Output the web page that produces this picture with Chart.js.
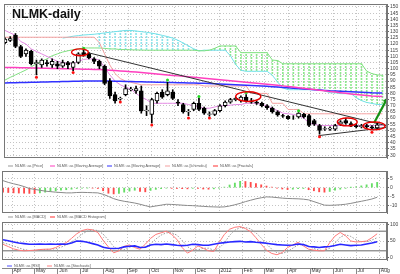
<!DOCTYPE html>
<html>
<head>
<meta charset="utf-8">
<script src="https://cdn.jsdelivr.net/npm/chart.js@4.4.0/dist/chart.umd.min.js"></script>
<style>
  body { margin: 0; width: 400px; height: 274px; overflow: hidden; position: relative; background: #fff; }
  canvas { position: absolute; left: 0; }
  #title { position: absolute; left: 12px; top: 8px; font: bold 12.5px 'Liberation Sans', Arial, sans-serif; line-height: 1; color: #111; }
  .lg { position: absolute; transform: scale(0.5); transform-origin: 0 50%; font: 7.5px 'Liberation Sans', Arial, sans-serif; color: #555; white-space: nowrap; line-height: 8px; }
  .lg i { display: inline-block; width: 10px; height: 2px; vertical-align: middle; margin-right: 4px; }
</style>
</head>
<body>
<canvas id="main" width="400" height="162" style="top:0"></canvas>
<canvas id="macd" width="400" height="50" style="top:167px"></canvas>
<canvas id="osc" width="400" height="46" style="top:218px"></canvas>
<canvas id="axis" width="400" height="8" style="top:267px"></canvas>
<div id="title">NLMK-daily</div>
<script>
// --- данные (недельные свечи, индекс 0 = конец марта 2011) ---
const opens  = [121,123,127,118,112,114,104,103,105,103,104,102,105,101,105,113,112,108,106,102,90,79,75.5,79,83,82,82,66,63,74,81,79,81,73,71,65,67,72,68,63,63,66,70,73,75,74,77,74,73,72,70,68,65,62,61.5,60,61,63,62,58,54,51,51,51,55,58,55.5,54,53,54,53,52];
const closes = [124,124.5,118,110,115,104,105,107,104,106,102,105,103,105,112,111,109,106,102,88,78,74,76,84,83.5,84,66,66.5,75,80,77,82,76,72,65,65.5,72,67,64,63.5,66,70,73,75,76,77,74,73,72,70,68.5,65,62.5,61.5,59.5,60,64,61,54,55,50,51.5,52,54,57,56,53.5,53,54,53,52,54.5];
const highs  = [125,126,128.5,119,116,115,107,108,107,108,106,107,106,106,113,115,113,109,107,103,92,81,77,87,85,86,86,70,76,81,83,89,83,75,72,67,73,76,69,65,67,71,74,76,77,78,79,76,74,73,71,69,66,63,62,62,64.5,64,63,59,55,53,53,55,58,60,57,55,55,55,54,56];
const lows   = [120,122,117,109,110,103,95,101,102,101,100,101,100,98.5,104,110,108,104,100,87,76,72,74.5,78,82,80,64,62,56,72,76,78,75,70,64,62,66,66,63,61.5,62,65,69,72,74,73,73,72,71,69,67,64,61.5,60.5,59,59,60,60,53,54,47,50,50,50,54,55,53,52,52,51.5,50.5,51.5];

const maPink = [101,101,101,100.8,100.7,100.6,100.5,100.4,100.3,100.2,100.1,100,99.9,99.8,99.7,99.6,99.5,99.4,99.3,99.1,98.8,98.5,98.2,97.9,97.6,97.3,97,96.6,96.2,95.8,95.4,95,94.6,94.2,93.8,93.4,93,92.6,92.2,91.8,91.4,91,90.6,90.2,89.8,89.4,89,88.6,88.2,87.8,87.4,87,86.6,86.1,85.6,85.1,84.6,84.1,83.6,83.1,82.6,82.1,81.6,81.1,80.6,80.1,79.6,79.2,78.8,78.4,78,77.7,77.4];
const maBlue = [88.5,88.6,88.7,88.8,88.9,89,89.1,89.2,89.3,89.4,89.5,89.6,89.7,89.8,89.9,90,90,90,90,90,90,89.9,89.8,89.7,89.6,89.5,89.4,89.3,89.2,89.1,89,88.9,88.8,88.7,88.6,88.5,88.4,88.3,88.2,88,87.8,87.6,87.4,87.2,87,86.8,86.6,86.4,86.2,86,85.7,85.4,85.1,84.8,84.5,84.2,83.9,83.6,83.3,83,82.7,82.4,82.1,81.9,81.7,81.5,81.3,81.1,80.9,80.7,80.5,80.4,80.3];

// Ichimoku
const spanGreen = [90.8,93,95,97,99,101.5,104,106,108,110.5,112,113.5,114.5,115.5,116,116.8,116.8,116.8,116.8,116.5,116,116,115.5,115.5,115.3,115.2,115.1,115,115,115,115,115,115,115,115,115,115,114.5,114.5,115,116.5,118.4,118.4,118.4,118.4,113,113,113,113,113,113,107,106.6,104,104,104,104,104,104,104,104,104,104,104,104,104,104,104,104,98,96,95,94.7];
const spanCyan = [null,null,null,null,null,null,null,null,null,null,null,124.8,125.5,126.3,126.8,127.3,127.6,127.9,128.4,129,129.5,130,130.5,131,131,130.5,130,129.5,128.8,128,127,126,124.8,123,120.8,118.5,116,114.5,115,115,115,115,115,110.5,103.4,98.7,97.9,97.9,97.9,97.9,97.9,94.7,89.2,84.5,83,83,83,83,83,83,83.5,82,80.5,80.5,79.8,79.8,79.8,76.6,74.2,72.7,71.9,71,71];
const kijun = [125.5,125.5,125.5,125.5,125.5,125.5,125.5,125.5,125.5,125.5,125.5,125.5,125.5,125.5,125.5,125.5,125.5,125.5,121,112,103,96,92,90,89,88,87,87,87,87,87,87,87,87,87,87,87,87,86,86,86,86,86,86,86,86,86,80,80,80,80,72,72,72,67,67,67,63.5,63.5,63.5,63.5,63.5,63.5,63.5,63.5,63.5,63.5,63.5,63.5,63.5,63.5,63.5,63.5];
const tenkan = [131,129,127,122,120,116,114,112,110,108,106,105,104.5,104,106,107.5,108,108,107,101,95,90,87,85,83.5,80,77,75,72,72,72,72,72,72,72,71,70,69,68,68,69,70,70,70.5,71,71,72,72,72,71,70,68,66,64,63.5,63,62,60,56,55,54,54,54,54,54,54,54,54,54,54,54,54,54];

// фракталы
const fractalUpIdx = [15, 31, 37, 46, 56];
const fractalUpVal = [116.5, 90.8, 77.6, 80.8, 66];
const fractalDnIdx = [6, 13, 22, 28, 35, 39, 60, 70];
const fractalDnVal = [93, 97, 73, 54.5, 60, 60, 45, 48.5];

// разметка: линии тренда, стрелка, эллипсы [индекс, цена, полуширина, полувысота]
const trendDown = [[15.9, 112.9], [72.9, 53.7]];
const trendUp = [[59.8, 45.8], [72.9, 52.5]];
const arrowPts = [[70.4, 56], [72.7, 74.2]];
const ellipses = [[14.3, 113.3, 1.6, 2.8], [46.4, 77.4, 2.4, 3.9], [65.3, 56.9, 1.9, 3.2], [70.4, 53.7, 2.1, 3.2]];

// MACD
const macdLine = [4,3,2.2,1.5,0.6,-0.5,-1,-1.5,-2,-2.3,-2.6,-2.8,-3,-3,-2.8,-2.7,-2.8,-2.9,-3,-3.8,-5,-6.3,-7.2,-7.8,-8.3,-8.8,-9.5,-10.3,-11,-10.5,-10,-9.5,-9.6,-9.8,-10,-10.2,-10.3,-10.5,-10.7,-10.9,-11,-11.1,-11,-10.5,-9.8,-9,-8,-7.2,-6.4,-5.8,-5.3,-5.4,-5.7,-6,-6.2,-6.3,-6.4,-6.6,-7,-8,-9,-10,-10.1,-10,-9.8,-9.5,-9,-8.4,-7.8,-7.2,-6.5,-5.5];
const macdHist = [-2.6,-2.8,-3,-3.1,-3.2,-3.3,-3.4,-3,-2.6,-2.2,-1.9,-1.5,-1.2,-0.9,-0.5,-0.3,-0.2,-0.3,-0.5,-1.8,-3.2,-3.6,-3.3,-2.6,-2,-1.5,-2.2,-2.4,-1.6,-1,-0.6,-0.3,-0.4,-0.5,-0.6,-0.7,-0.4,-0.5,-0.8,-0.9,-0.7,-0.3,0.3,1.5,2.6,3.6,3.5,3,2.3,1.6,0.9,0.3,-0.3,-0.8,-1.1,-0.9,-0.6,-0.5,-1.2,-1.8,-2.4,-2.6,-2.2,-1.5,-0.9,-0.4,0.1,0.5,1,1.6,2.3,3];

// RSI и стохастик
const rsi = [54,51,47,44,42,40,40,41,40,41,40,41,40,44,50,49,46,42,38,31,28,27,28,32,34,35,30,31,38,40,39,41,39,37,36,37,40,39,37,37,40,43,45,47,48,49,47,48,46,45,43,41,39,38,37,38,41,39,33,32,30,32,33,36,40,38,36,37,38,41,44,48];
const stochK = [40,33,26,22,20,21,22,24,25,25,30,38,45,58,72,82,86,84,76,52,32,14,20,34,38,30,25,40,58,70,75,80,70,55,30,13,22,35,28,20,18,45,70,86,92,94,88,78,60,40,22,12,8,15,30,38,46,35,25,22,20,20,45,65,76,66,50,47,48,50,60,72];
const stochD = [45,40,35,29,24,21,21,22,24,25,26,31,38,47,58,71,80,84,82,71,53,33,22,23,31,34,31,32,41,56,68,75,75,68,52,33,22,23,28,28,22,28,44,67,83,91,91,87,75,59,41,25,14,12,18,28,38,40,35,27,22,21,28,43,62,69,64,54,48,48,53,60];
const oscLevels = [20, 80];

// оси
const priceTicks = [30,35,40,45,50,55,60,65,70,75,80,85,90,95,100,105,110,115,120,125,130,135,140,145,150];
const macdTicks = [-10, -5, 0, 5];
const oscTicks = [0, 50, 100];
const monthTicks = [1.71, 6.0, 10.43, 14.71, 19.14, 23.57, 27.86, 32.29, 36.57, 41.0, 45.43, 49.57, 54.0, 58.29, 62.71, 67.0, 71.43];
const monthLabels = ['Apr','May','Jun','Jul','Aug','Sep','Oct','Nov','Dec','2012','Feb','Mar','Apr','May','Jun','Jul','Aug'];

const X_MIN = -0.19, X_MAX = 72.87;

Chart.defaults.font.family = "'Liberation Sans', Arial, sans-serif";

const pts = arr => arr.map((v, i) => ({ x: i, y: v }));
const pairs = arr => arr.map(p => ({ x: p[0], y: p[1] }));

// пунктирная штриховка облака
function dotted(color) {
  const p = document.createElement('canvas');
  p.width = 1; p.height = 3;
  const g = p.getContext('2d');
  g.fillStyle = color;
  g.fillRect(0, 0, 1, 2);
  return g.createPattern(p, 'repeat');
}

const GRID = '#c4c4c4';

function xAxis() {
  return {
    type: 'linear', min: X_MIN, max: X_MAX, offset: false,
    afterBuildTicks: s => { s.ticks = monthTicks.map(v => ({ value: v })); },
    afterFit: s => { s.height = 0; },
    ticks: { display: false },
    grid: { color: GRID, drawTicks: false, offset: false },
    border: { display: false, dash: [1, 2] }
  };
}

function yAxis(min, max, ticks) {
  return {
    position: 'right', min: min, max: max,
    afterBuildTicks: s => { s.ticks = ticks.map(v => ({ value: v })); },
    afterFit: s => { s.width = 13; },
    ticks: { autoSkip: false, font: { size: 5 }, color: '#444', padding: 1 },
    grid: { color: GRID, tickLength: 2, tickColor: '#666' },
    border: { display: true, color: '#777', dash: [1, 2] }
  };
}

// рамка панели
const boxPlugin = {
  id: 'box',
  afterDraw(c) {
    const a = c.chartArea, ctx = c.ctx;
    ctx.save();
    ctx.strokeStyle = '#777';
    ctx.lineWidth = 1;
    ctx.strokeRect(Math.round(a.left) + 0.5, Math.round(a.top) + 0.5, Math.round(a.right - a.left) - 1, Math.round(a.bottom - a.top) - 1);
    ctx.restore();
  }
};

// красные эллипсы через шкалы графика
const ellipsePlugin = {
  id: 'ellipses',
  afterDatasetsDraw(c) {
    const xs = c.scales.x, ys = c.scales.y, ctx = c.ctx;
    ctx.save();
    ctx.strokeStyle = '#e80000';
    ctx.lineWidth = 1.4;
    ellipses.forEach(e => {
      const cx = xs.getPixelForValue(e[0]), cy = ys.getPixelForValue(e[1]);
      const rx = Math.abs(xs.getPixelForValue(e[0] + e[2]) - cx);
      const ry = Math.abs(ys.getPixelForValue(e[1] + e[3]) - cy);
      ctx.beginPath();
      ctx.ellipse(cx, cy, rx, ry, 0, 0, Math.PI * 2);
      ctx.stroke();
    });
    ctx.restore();
  }
};

const base = {
  responsive: false, animation: false, devicePixelRatio: 1,
  plugins: { legend: { display: false }, tooltip: { enabled: false } },
  elements: { point: { radius: 0 }, line: { tension: 0, borderWidth: 1 } }
};

function line(data, color, width, order, extra) {
  return Object.assign({ type: 'line', data: data, borderColor: color, borderWidth: width, pointRadius: 0, fill: false, order: order, spanGaps: false }, extra || {});
}

// облако: вертикальная штриховка по каждой свече
const hatchGreen = dotted('#8ee88e');
const hatchCyan = dotted('#8ee4ea');
const hatch = [];
const hatchColors = [];
spanGreen.forEach((g, i) => {
  const c = spanCyan[i];
  if (i >= 18 && c != null) {
    hatch.push({ x: i, y: [g, c] });
    hatchColors.push(g >= c ? hatchGreen : hatchCyan);
  }
});

new Chart(document.getElementById('main'), {
  type: 'bar',
  data: {
    datasets: [
      { type: 'bar', data: opens.map((o, i) => ({ x: i, y: [o, closes[i]] })),
        backgroundColor: opens.map((o, i) => closes[i] >= o ? '#ffffff' : '#000000'),
        borderColor: '#000', borderWidth: 1, borderSkipped: false, barThickness: 4, grouped: false, order: 0 },
      { type: 'bar', data: lows.map((l, i) => ({ x: i, y: [l, highs[i]] })),
        backgroundColor: '#000', barThickness: 1, grouped: false, order: 1 },
      { type: 'scatter', data: fractalUpIdx.map((x, k) => ({ x: x, y: fractalUpVal[k] })),
        pointRadius: 1.5, pointBackgroundColor: '#22dd22', pointBorderWidth: 0, order: 0 },
      { type: 'scatter', data: fractalDnIdx.map((x, k) => ({ x: x, y: fractalDnVal[k] })),
        pointRadius: 1.5, pointBackgroundColor: '#ff1010', pointBorderWidth: 0, order: 0 },
      line(pairs(trendDown), '#333', 1, 2),
      line(pairs(trendUp), '#333', 1, 2),
      line(pairs(arrowPts), '#159015', 2.2, 0, { pointRadius: [0, 3.5], pointStyle: 'triangle', pointRotation: 22, pointBackgroundColor: '#159015', pointBorderWidth: 0 }),
      line(pts(maPink), '#ff3fbf', 1.5, 3),
      line(pts(maBlue), '#3030ff', 1.5, 3),
      line(pts(tenkan), '#e38ae3', 1, 4),
      line(pts(kijun), '#f4a0a0', 1, 4),
      line(pts(spanGreen), '#80e080', 1, 4),
      line(pts(spanCyan), '#70e0e8', 1, 4),
      { type: 'bar', data: hatch, backgroundColor: hatchColors, barThickness: 1, grouped: false, order: 5 }
    ]
  },
  options: Object.assign({}, base, {
    layout: { padding: { left: 2, top: 2, right: 0, bottom: 2 } },
    scales: { x: xAxis(), y: yAxis(27.7, 152.4, priceTicks) }
  }),
  plugins: [boxPlugin, ellipsePlugin]
});

new Chart(document.getElementById('macd'), {
  type: 'bar',
  data: {
    datasets: [
      line(pts(macdLine), '#8a8a8a', 1, 0),
      { type: 'bar', data: pts(macdHist), barThickness: 1.2, grouped: false, order: 1,
        backgroundColor: macdHist.map((v, i) => (i > 0 && v > macdHist[i - 1]) ? '#66dd66' : '#ff4a4a') }
    ]
  },
  options: Object.assign({}, base, {
    layout: { padding: { left: 2, top: 2, right: 0, bottom: 2 } },
    scales: { x: xAxis(), y: yAxis(-14.5, 9.5, macdTicks) }
  }),
  plugins: [boxPlugin]
});

new Chart(document.getElementById('osc'), {
  type: 'line',
  data: {
    datasets: [
      line(pts(rsi), '#2828ff', 1.6, 0),
      line(pts(stochK), '#ff7a7a', 1, 1),
      line(pts(stochD), '#999', 1, 2, { borderDash: [1.5, 1.5] }),
      line([{ x: X_MIN, y: oscLevels[0] }, { x: X_MAX, y: oscLevels[0] }], '#666', 1, 3),
      line([{ x: X_MIN, y: oscLevels[1] }, { x: X_MAX, y: oscLevels[1] }], '#666', 1, 3)
    ]
  },
  options: Object.assign({}, base, {
    layout: { padding: { left: 2, top: 2, right: 0, bottom: 2 } },
    scales: { x: xAxis(), y: yAxis(-8, 108, oscTicks) }
  }),
  plugins: [boxPlugin]
});

// нижняя шкала месяцев
new Chart(document.getElementById('axis'), {
  type: 'line',
  data: { datasets: [] },
  options: Object.assign({}, base, {
    layout: { padding: { left: 2, top: 0, right: 13, bottom: 0 } },
    scales: {
      x: {
        type: 'linear', min: X_MIN, max: X_MAX, offset: false,
        afterBuildTicks: s => { s.ticks = monthTicks.map(v => ({ value: v })); },
        afterFit: s => { s.height = 7; },
        ticks: { autoSkip: false, maxRotation: 0, align: 'start', padding: -7, font: { size: 5 }, color: '#333',
                 callback: (v, i) => ' ' + monthLabels[i] },
        grid: { drawOnChartArea: false, tickLength: 7, color: '#888' },
        border: { display: true, color: '#888' }
      },
      y: { display: false }
    }
  })
});

// легенды
function legend(top, items) {
  items.forEach(it => {
    const d = document.createElement('div');
    d.className = 'lg';
    d.style.left = it[0] + 'px';
    d.style.top = (top - 4) + 'px';
    d.innerHTML = '<i style="background:' + it[1] + '"></i>' + it[2];
    document.body.appendChild(d);
  });
}
legend(165.5, [[8, '#999', 'NLMK: as [Price]'], [50, '#ff3fbf', 'NLMK: as [Moving Average]'], [107, '#3030ff', 'NLMK: as [Moving Average]'],
               [165, '#f4a0a0', 'NLMK: as [Ichimoku]'], [213, '#ff3030', 'NLMK: as [Fractals]']]);
legend(217, [[8, '#999', 'NLMK: as [MACD]'], [50, '#ff3030', 'NLMK: as [MACD Histogram]']]);
legend(265.5, [[7, '#5050ff', 'NLMK: as [RSI]'], [47, '#ff8080', 'NLMK: as [Stochastic]']]);
</script>
</body>
</html>
